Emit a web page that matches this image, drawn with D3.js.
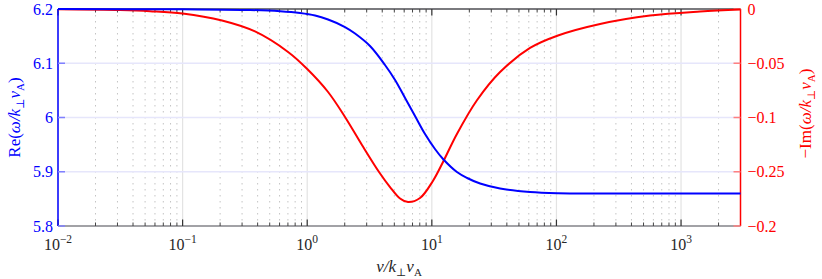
<!DOCTYPE html>
<html>
<head>
<meta charset="utf-8">
<script src="https://cdn.jsdelivr.net/npm/d3@7"></script>
<style>
  body { margin: 0; background: #fff; }
  text { font-family: "Liberation Serif", "DejaVu Serif", serif; }
</style>
</head>
<body>
<svg id="drawing_region"></svg>
<script>
// Re(omega) curve
const nuRe  = [0.01, 0.1, 0.348, 0.606, 0.875, 1.156, 1.47, 2.01, 2.42, 3.19, 4.21, 5.07, 6.10, 7.33, 8.82, 10.6, 12.3, 15.9, 19.2, 24.4, 35.3, 61.4, 103, 224, 3000];
const reVal = [6.2, 6.1994, 6.1982, 6.1959, 6.1926, 6.188, 6.1806, 6.1668, 6.1548, 6.1318, 6.0968, 6.0691, 6.0359, 6.0028, 5.9696, 5.9419, 5.9235, 5.8995, 5.8885, 5.8783, 5.8691, 5.8627, 5.8605, 5.86, 5.86];

// -Im(omega) curve
const nuIm  = [0.01, 0.0315, 0.0547, 0.1, 0.207, 0.381, 0.702, 1.0, 1.47, 2.01, 2.75, 3.77, 4.62, 5.56, 6.44, 8.04, 10.2, 12.3, 15.9, 23.1, 35.3, 61.4, 103, 224, 564, 1419, 3000];
const imVal = [-0.0003, -0.001, -0.002, -0.0041, -0.0106, -0.0207, -0.0396, -0.0553, -0.0765, -0.0995, -0.1253, -0.1502, -0.1641, -0.1747, -0.1779, -0.1742, -0.1585, -0.141, -0.1152, -0.0839, -0.0581, -0.0359, -0.0244, -0.0138, -0.006, -0.0023, -0.0005];

const leftTicks = [5.8, 5.9, 6, 6.1, 6.2];
const leftTickLabels = ["5.8", "5.9", "6", "6.1", "6.2"];
const rightTicks = [0, -0.05, -0.1, -0.15, -0.2];
const rightTickLabels = ["0", "\u22120.05", "\u22120.1", "\u22120.25", "\u22120.2"];
const xDecades = [-2, -1, 0, 1, 2, 3];

const config = {
    parent: '#drawing_region',
    width: 822,
    height: 279,
    margin: { left: 58, right: 81.5, top: 9, bottom: 53 }
};

class DualAxisChart {
    constructor(config) {
        this.config = config;
        this.init();
    }

    init() {
        let self = this;
        let m = self.config.margin;
        self.svg = d3.select(self.config.parent)
            .attr('width', self.config.width)
            .attr('height', self.config.height);

        self.inner_width = self.config.width - m.left - m.right;
        self.inner_height = self.config.height - m.top - m.bottom;

        self.chart = self.svg.append('g')
            .attr('transform', `translate(${m.left}, ${m.top})`);

        self.xscale = d3.scaleLog()
            .domain([0.01, 3000])
            .range([0, self.inner_width]);
        self.yleft = d3.scaleLinear()
            .domain([5.8, 6.2])
            .range([self.inner_height, 0]);
        self.yright = d3.scaleLinear()
            .domain([-0.2, 0])
            .range([self.inner_height, 0]);
    }

    render() {
        let self = this;
        let W = self.inner_width, H = self.inner_height;

        // minor ticks positions
        let minors = [];
        xDecades.forEach(e => {
            for (let k = 2; k <= 9; k++) {
                let v = k * Math.pow(10, e);
                if (v < 3000) minors.push(v);
            }
        });
        let majors = xDecades.map(e => Math.pow(10, e));

        // grid
        self.chart.append('g').selectAll('line').data(minors).join('line')
            .attr('x1', d => self.xscale(d)).attr('x2', d => self.xscale(d))
            .attr('y1', 0).attr('y2', H)
            .attr('stroke', '#c4c4c4').attr('stroke-width', 1)
            .attr('stroke-dasharray', '1.5,4.5');
        self.chart.append('g').selectAll('line').data(majors).join('line')
            .attr('x1', d => self.xscale(d)).attr('x2', d => self.xscale(d))
            .attr('y1', 0).attr('y2', H)
            .attr('stroke', '#e3e3e3').attr('stroke-width', 1.2);
        self.chart.append('g').selectAll('line').data(leftTicks).join('line')
            .attr('x1', 0).attr('x2', W)
            .attr('y1', d => self.yleft(d)).attr('y2', d => self.yleft(d))
            .attr('stroke', '#e6e6fb').attr('stroke-width', 1.5);

        // box
        self.chart.append('line').attr('x1', 0).attr('x2', W).attr('y1', H).attr('y2', H)
            .attr('stroke', '#8a8a8a').attr('stroke-width', 1.5);
        self.chart.append('line').attr('x1', 0).attr('x2', W).attr('y1', 0).attr('y2', 0)
            .attr('stroke', '#555').attr('stroke-width', 1.5);

        // x ticks (inside, bottom and top)
        [[H, -1], [0, 1]].forEach(([y0, dir]) => {
            self.chart.append('g').selectAll('line').data(minors).join('line')
                .attr('x1', d => self.xscale(d)).attr('x2', d => self.xscale(d))
                .attr('y1', y0).attr('y2', y0 + dir * 3.5)
                .attr('stroke', '#444').attr('stroke-width', 1);
            self.chart.append('g').selectAll('line').data(majors).join('line')
                .attr('x1', d => self.xscale(d)).attr('x2', d => self.xscale(d))
                .attr('y1', y0).attr('y2', y0 + dir * 6.5)
                .attr('stroke', '#333').attr('stroke-width', 1.2);
        });

        // x tick labels 10^k
        let xl = self.chart.append('g').selectAll('text').data(xDecades).join('text')
            .attr('x', d => self.xscale(Math.pow(10, d)))
            .attr('y', H + 24)
            .attr('text-anchor', 'middle')
            .attr('font-size', 16)
            .attr('fill', '#262626');
        xl.append('tspan').text('10');
        xl.append('tspan').attr('dy', -7).attr('font-size', 11.5)
            .text(d => d < 0 ? '\u2212' + (-d) : '' + d);

        // left axis
        self.chart.append('line').attr('x1', 0).attr('x2', 0).attr('y1', 0).attr('y2', H)
            .attr('stroke', '#0000ff').attr('stroke-width', 1.5);
        self.chart.append('g').selectAll('line').data(leftTicks).join('line')
            .attr('x1', 0).attr('x2', 7)
            .attr('y1', d => self.yleft(d)).attr('y2', d => self.yleft(d))
            .attr('stroke', '#8080ff').attr('stroke-width', 1.5);
        self.chart.append('g').selectAll('text').data(leftTicks).join('text')
            .attr('x', -5)
            .attr('y', d => self.yleft(d) + 5.5)
            .attr('text-anchor', 'end')
            .attr('font-size', 16)
            .attr('fill', '#0000ff')
            .text((d, i) => leftTickLabels[i]);

        // right axis
        self.chart.append('line').attr('x1', W).attr('x2', W).attr('y1', 0).attr('y2', H)
            .attr('stroke', '#ff0000').attr('stroke-width', 1.5);
        self.chart.append('g').selectAll('line').data(rightTicks).join('line')
            .attr('x1', W).attr('x2', W - 7)
            .attr('y1', d => self.yright(d)).attr('y2', d => self.yright(d))
            .attr('stroke', '#ff8080').attr('stroke-width', 1.5);
        self.chart.append('g').selectAll('text').data(rightTicks).join('text')
            .attr('x', W + 7)
            .attr('y', d => self.yright(d) + 5.5)
            .attr('text-anchor', 'start')
            .attr('font-size', 16)
            .attr('fill', '#ff0000')
            .text((d, i) => rightTickLabels[i]);

        // curves
        let lineRe = d3.line()
            .x(d => self.xscale(d[0])).y(d => self.yleft(d[1]))
            .curve(d3.curveCatmullRom.alpha(0.5));
        let lineIm = d3.line()
            .x(d => self.xscale(d[0])).y(d => self.yright(d[1]))
            .curve(d3.curveCatmullRom.alpha(0.5));

        self.chart.append('path')
            .datum(nuIm.map((v, i) => [v, imVal[i]]))
            .attr('d', lineIm)
            .attr('fill', 'none').attr('stroke', '#ff0000').attr('stroke-width', 2);
        self.chart.append('path')
            .datum(nuRe.map((v, i) => [v, reVal[i]]))
            .attr('d', lineRe)
            .attr('fill', 'none').attr('stroke', '#0000ff').attr('stroke-width', 2);

        // axis titles
        let m = self.config.margin;
        let lt = self.svg.append('text')
            .attr('transform', `translate(20, ${m.top + H / 2}) rotate(-90)`)
            .attr('text-anchor', 'middle').attr('font-size', 17).attr('fill', '#0000ff');
        self.mathLabel(lt, 'Re(');

        let rt = self.svg.append('text')
            .attr('transform', `translate(811, ${m.top + H / 2 - 4}) rotate(-90)`)
            .attr('text-anchor', 'middle').attr('font-size', 17).attr('fill', '#ff0000');
        self.mathLabel(rt, '\u2212Im(');

        let xt = self.svg.append('text')
            .attr('x', 399).attr('y', 272)
            .attr('text-anchor', 'middle').attr('font-size', 17).attr('fill', '#262626');
        xt.append('tspan').attr('font-style', 'italic').text('\u03bd/k');
        xt.append('tspan').attr('font-size', 11).attr('dy', 4).text('\u22a5');
        xt.append('tspan').attr('font-style', 'italic').attr('dy', -4).text('v');
        xt.append('tspan').attr('font-size', 11).attr('dy', 4).text('A');
    }

    mathLabel(t, prefix) {
        t.append('tspan').text(prefix);
        t.append('tspan').attr('font-style', 'italic').text('\u03c9/k');
        t.append('tspan').attr('font-size', 11).attr('dy', 4).text('\u22a5');
        t.append('tspan').attr('font-style', 'italic').attr('dy', -4).text('v');
        t.append('tspan').attr('font-size', 11).attr('dy', 4).text('A');
        t.append('tspan').attr('dy', -4).text(')');
    }
}

let chart = new DualAxisChart(config);
chart.render();
</script>
</body>
</html>
